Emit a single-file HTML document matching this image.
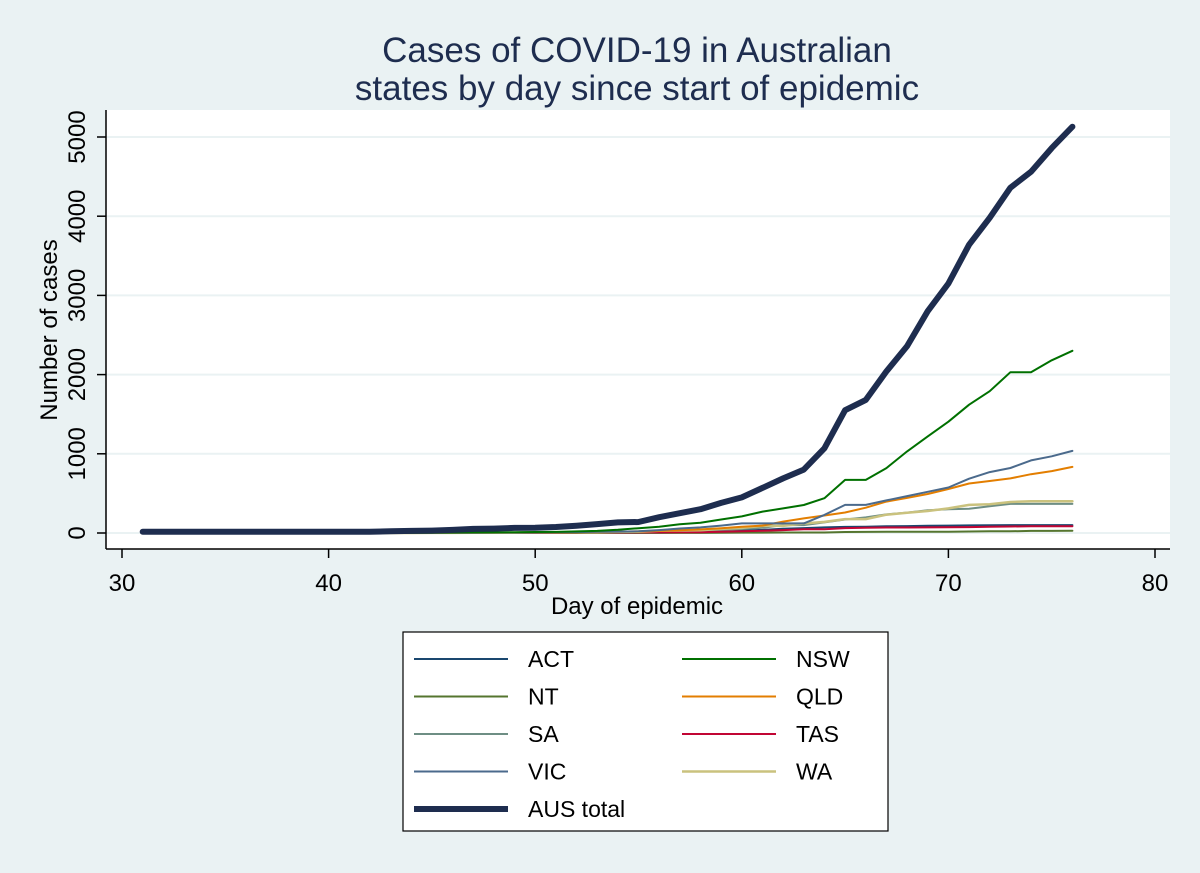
<!DOCTYPE html>
<html><head><meta charset="utf-8"><style>
body{margin:0;background:#eaf2f3;}
svg{display:block;font-family:"Liberation Sans",Arial,sans-serif;}
</style></head><body>
<svg id="chart" width="1200" height="873">
<rect x="0" y="0" width="1200" height="873" fill="#eaf2f3"/>
<text x="637" y="62" font-size="35" text-anchor="middle" fill="#1e2d4f">Cases of COVID-19 in Australian</text>
<text x="637" y="100" font-size="35" text-anchor="middle" fill="#1e2d4f">states by day since start of epidemic</text>
<rect x="106" y="110" width="1064" height="439" fill="#ffffff"/>
<g id="grid"></g>
<g id="series"></g>
<line x1="106" y1="110" x2="106" y2="549" stroke="#000" stroke-width="1.5"/>
<line x1="106" y1="549" x2="1170" y2="549" stroke="#000" stroke-width="1.5"/>
<g id="ticks"></g>
<text x="637" y="614" font-size="24" text-anchor="middle" fill="#000">Day of epidemic</text>
<text transform="translate(57,330) rotate(-90)" font-size="24" text-anchor="middle" fill="#000">Number of cases</text>
<rect x="403" y="632" width="485" height="199" fill="#fff" stroke="#000" stroke-width="1.2"/>
<g id="legend"></g>
</svg>
<script>
const days=[];for(let d=31;d<=76;d++)days.push(d);
// values for days 31..76
const NSW=[0,0,0,0,0,0,0,0,0,0,1,2,3,4,4,6,7,7,10,12,14,20,26,40,60,80,110,130,170,210,270,310,353,440,670,670,820,1030,1220,1405,1620,1790,2030,2030,2180,2300];
const VIC=[0,0,0,0,0,0,0,0,0,0,0,0,1,2,3,3,4,5,6,7,9,11,15,18,21,36,57,71,94,121,121,121,121,229,355,355,411,466,520,574,685,769,821,917,968,1036];
const QLD=[0,0,0,0,0,0,0,0,0,0,0,0,0,1,2,3,4,5,6,7,8,10,15,18,20,27,35,46,61,78,94,144,184,221,259,319,397,443,493,555,625,656,689,743,781,835];
const SA=[0,0,0,0,0,0,0,0,0,0,0,0,0,0,1,2,2,3,5,7,7,8,8,10,13,18,29,32,37,50,67,100,100,134,170,197,235,257,287,299,305,337,367,367,367,367];
const WA=[0,0,0,0,0,0,0,0,0,0,0,0,0,0,1,1,2,3,5,7,8,9,10,14,17,28,31,35,52,64,90,90,120,140,175,175,231,255,278,311,355,364,392,400,400,400];
const TAS=[0,0,0,0,0,0,0,0,0,0,0,0,0,0,0,1,1,2,2,2,3,5,5,6,7,7,10,10,16,22,28,36,47,47,62,66,69,69,71,72,74,80,82,84,86,86];
const ACT=[0,0,0,0,0,0,0,0,0,0,0,0,0,0,0,0,0,0,0,0,0,1,1,2,2,3,6,9,19,32,39,53,62,71,77,80,84,87,91,93,96,99,100,100,100,100];
const NT=[0,0,0,0,0,0,0,0,0,0,0,0,0,0,0,0,0,0,0,0,0,0,0,1,1,1,1,1,3,5,5,6,6,6,12,14,15,15,16,17,19,21,22,26,27,28];
const AUS=[15,15,15,15,15,15,15,15,15,15,15,17,22,26,30,39,52,55,64,66,76,92,112,134,139,200,250,300,380,450,570,690,800,1070,1550,1680,2040,2360,2800,3150,3640,3980,4360,4560,4860,5130];
const yTicks=[0,1000,2000,3000,4000,5000];
const xTicks=[30,40,50,60,70,80];
const sx=d=>122+(d-30)*20.66;
const sy=v=>533-v*0.0792;
const NS="http://www.w3.org/2000/svg";
function mk(tag,attrs,parent){const e=document.createElementNS(NS,tag);for(const k in attrs)e.setAttribute(k,attrs[k]);parent.appendChild(e);return e;}
const grid=document.getElementById('grid'),ticks=document.getElementById('ticks'),ser=document.getElementById('series'),leg=document.getElementById('legend');
yTicks.forEach(v=>{
 const g=mk('line',{x1:106,x2:1170,y1:sy(v),y2:sy(v),stroke:'#eaf2f3','stroke-width':2},grid);
 
 
 const t=mk('line',{x1:97,x2:106,y1:sy(v),y2:sy(v),stroke:'#000','stroke-width':1.5},ticks);
 
 
 const l=mk('text',{transform:`translate(85,${sy(v)}) rotate(-90)`,'font-size':24,'text-anchor':'middle'},ticks);
 l.textContent=v;
 
 
});
xTicks.forEach(v=>{
 const t=mk('line',{x1:sx(v),x2:sx(v),y1:549,y2:558,stroke:'#000','stroke-width':1.5},ticks);
 
 
 const l=mk('text',{x:sx(v),y:591,'font-size':24,'text-anchor':'middle'},ticks);
 l.textContent=v;
 
 
});
const seriesList=[
 ['ACT',ACT,'#1a476f',2],['NT',NT,'#55752f',2],['SA',SA,'#6e8e84',2],['TAS',TAS,'#c10534',2],
 ['WA',WA,'#cac27e',2.5],['QLD',QLD,'#e37e00',2],['VIC',VIC,'#4b6a8c',2],['NSW',NSW,'#007000',2],['AUS total',AUS,'#1e2d4f',6]];
seriesList.forEach(([n,vals,c,w])=>{
 const pts=vals.map((v,i)=>sx(days[i]).toFixed(1)+','+sy(v).toFixed(1)).join(' ');
 const p=mk('polyline',{points:pts,fill:'none',stroke:c,'stroke-width':w,'stroke-linejoin':'round','stroke-linecap':'round'},ser);
 
 
});
const legItems=[['ACT','#1a476f',2,0,0],['NSW','#007000',2,1,0],['NT','#55752f',2,0,1],['QLD','#e37e00',2,1,1],['SA','#6e8e84',2,0,2],['TAS','#c10534',2,1,2],['VIC','#4b6a8c',2,0,3],['WA','#cac27e',2.5,1,3],['AUS total','#1e2d4f',6,0,4]];
legItems.forEach(([n,c,w,col,row])=>{
 const x0=col?682:414,y=659+row*37.5;
 const ln=mk('line',{x1:x0,x2:x0+94,y1:y,y2:y,stroke:c,'stroke-width':w},leg);
 
 
 const t=mk('text',{x:x0+114,y:y+8,'font-size':23},leg);
 t.textContent=n;
 
 
});
</script>
</body></html>
